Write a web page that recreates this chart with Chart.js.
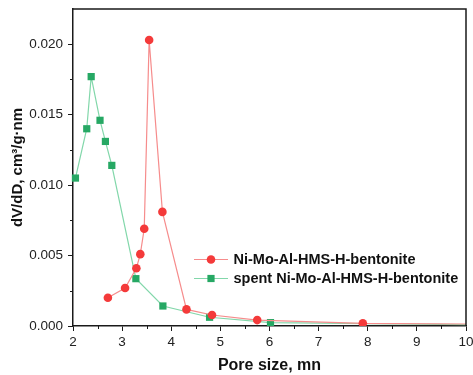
<!DOCTYPE html>
<html>
<head>
<meta charset="utf-8">
<script src="https://cdn.jsdelivr.net/npm/chart.js@4/dist/chart.umd.min.js"></script>
<style>
  html, body { margin: 0; padding: 0; background: #fff; }
  #wrap { width: 473px; height: 375px; }
</style>
</head>
<body>
<div id="wrap"><canvas id="c" width="473" height="375"></canvas></div>
<script>
// ---- data ----
const seriesLabels = ['Ni-Mo-Al-HMS-H-bentonite', 'spent Ni-Mo-Al-HMS-H-bentonite'];
const freshPoreSize = [2.71, 3.06, 3.29, 3.37, 3.45, 3.55, 3.82, 4.31, 4.83, 5.75, 7.90, 10.6];
const freshDVdD     = [0.0020, 0.0027, 0.0041, 0.0051, 0.0069, 0.0203, 0.0081, 0.00118, 0.00078, 0.00042, 0.00019, 0.000126];
const spentPoreSize = [2.05, 2.28, 2.37, 2.55, 2.66, 2.79, 3.28, 3.83, 4.78, 6.02, 10.6];
const spentDVdD     = [0.0105, 0.0140, 0.0177, 0.0146, 0.0131, 0.0114, 0.00336, 0.00142, 0.00062, 0.00024, 0.00008];
const xTicks = [2, 3, 4, 5, 6, 7, 8, 9, 10];
const yTicks = [0.000, 0.005, 0.010, 0.015, 0.020];
const xMinorStep = 0.5;
const yMinorStep = 0.0025;
const xTitle = 'Pore size, mn';
const yTitle = 'dV/dD, cm\u00B3/g\u00B7nm';

const RED = 'rgb(244,58,58)';
const RED_LINE = 'rgba(246,140,140,1)';
const GREEN = 'rgb(38,168,100)';
const GREEN_LINE = 'rgba(130,215,170,1)';
const FONT = '"Liberation Sans", Arial, sans-serif';
const AXIS = '#1a1a1a';

function toXY(xs, ys) { return xs.map((x, i) => ({ x: x, y: ys[i] })); }

const framePlugin = {
  id: 'frame',
  afterDatasetsDraw(chart) {
    const { ctx, chartArea: a, scales } = chart;
    ctx.save();
    ctx.strokeStyle = AXIS;
    ctx.lineWidth = 1.5;
    ctx.beginPath();
    ctx.moveTo(a.left, a.top); ctx.lineTo(a.right, a.top); ctx.lineTo(a.right, a.bottom);
    ctx.stroke();
    ctx.lineWidth = 1;
    const xs = scales.x, ys = scales.y;
    for (let v = xs.min + xMinorStep; v < xs.max; v += xMinorStep * 2) {
      const px = Math.round(xs.getPixelForValue(v)) + 0.5;
      ctx.beginPath(); ctx.moveTo(px, a.bottom); ctx.lineTo(px, a.bottom + 3); ctx.stroke();
    }
    for (let v = ys.min + yMinorStep; v < ys.max; v += yMinorStep * 2) {
      const py = Math.round(ys.getPixelForValue(v)) + 0.5;
      ctx.beginPath(); ctx.moveTo(a.left, py); ctx.lineTo(a.left - 3, py); ctx.stroke();
    }
    const rows = [
      { label: seriesLabels[0], line: RED_LINE, fill: RED, shape: 'circle', y: 259.5 },
      { label: seriesLabels[1], line: GREEN_LINE, fill: GREEN, shape: 'rect', y: 278.5 }
    ];
    ctx.font = 'bold 14.5px ' + FONT;
    ctx.textBaseline = 'middle';
    ctx.textAlign = 'left';
    rows.forEach(r => {
      ctx.strokeStyle = r.line; ctx.lineWidth = 1.2;
      ctx.beginPath(); ctx.moveTo(194, r.y); ctx.lineTo(228, r.y); ctx.stroke();
      ctx.fillStyle = r.fill;
      if (r.shape === 'circle') {
        ctx.beginPath(); ctx.arc(211, r.y, 4.3, 0, Math.PI * 2); ctx.fill();
      } else {
        ctx.fillRect(211 - 3.6, r.y - 3.6, 7.2, 7.2);
      }
      ctx.fillStyle = '#111';
      ctx.fillText(r.label, 233.5, r.y + 0.5);
    });
    ctx.restore();
  }
};

new Chart(document.getElementById('c'), {
  type: 'line',
  data: {
    datasets: [
      {
        label: seriesLabels[0],
        data: toXY(freshPoreSize, freshDVdD),
        borderColor: RED_LINE, backgroundColor: RED,
        pointBackgroundColor: RED, pointBorderColor: RED, pointBorderWidth: 0,
        pointStyle: 'circle', pointRadius: 4.3, borderWidth: 1.2, tension: 0,
        clip: { left: 6, top: 6, right: 0, bottom: 0 }
      },
      {
        label: seriesLabels[1],
        data: toXY(spentPoreSize, spentDVdD),
        borderColor: GREEN_LINE, backgroundColor: GREEN,
        pointBackgroundColor: GREEN, pointBorderColor: GREEN, pointBorderWidth: 0,
        pointStyle: 'rect', pointRadius: 5.1, borderWidth: 1.2, tension: 0,
        clip: { left: 6, top: 6, right: 0, bottom: 0 }
      }
    ]
  },
  options: {
    responsive: false,
    animation: false,
    events: [],
    layout: { padding: { top: 9, right: 7, left: 0, bottom: 0 } },
    plugins: { legend: { display: false }, tooltip: { enabled: false } },
    scales: {
      x: {
        type: 'linear', min: 2, max: 10,
        afterBuildTicks: s => { s.ticks = xTicks.map(v => ({ value: v })); },
        afterFit: s => { s.height = 49; s.paddingLeft = 0; s.paddingRight = 0; },
        ticks: { color: '#222', font: { family: FONT, size: 13.5 }, padding: 3, maxRotation: 0,
                 callback: v => String(v) },
        grid: { display: true, drawOnChartArea: false, drawTicks: true, tickLength: 5, tickColor: AXIS, tickWidth: 1 },
        border: { display: true, color: AXIS, width: 1.5 },
        title: { display: true, text: xTitle, color: '#111', font: { family: FONT, size: 16, weight: 'bold' },
                 padding: { top: 0, bottom: 0 } }
      },
      y: {
        type: 'linear', min: 0, max: 0.0225,
        afterBuildTicks: s => { s.ticks = yTicks.map(v => ({ value: v })); },
        afterFit: s => { s.width = 73; s.paddingTop = 0; s.paddingBottom = 0; },
        ticks: { color: '#222', font: { family: FONT, size: 13.5 }, padding: 5,
                 callback: v => Number(v).toFixed(3) },
        grid: { display: true, drawOnChartArea: false, drawTicks: true, tickLength: 5, tickColor: AXIS, tickWidth: 1 },
        border: { display: true, color: AXIS, width: 1.5 },
        title: { display: true, text: yTitle, color: '#111', font: { family: FONT, size: 15, weight: 'bold' },
                 padding: { top: 8.5, bottom: 0 } }
      }
    }
  },
  plugins: [framePlugin]
});
</script>
</body>
</html>
